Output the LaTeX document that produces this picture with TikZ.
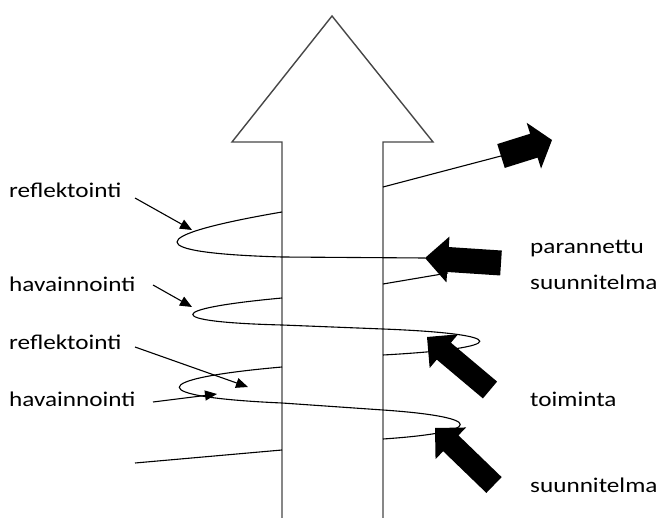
\documentclass[tikz,border=0pt]{standalone}
\usepackage{fontspec}
\setmainfont{Carlito}[FakeStretch=1.2]
\usetikzlibrary{calc,arrows.meta}
\tikzset{
  bigarrow/.style={draw=black!72, fill=white, line width=1.4pt, line join=miter},
  spiral/.style={draw=black, line width=1.1pt},
  lbl/.style={font=\fontsize{21}{24}\selectfont, anchor=base west, inner sep=0pt, text=black},
  lblarrow/.style={draw=black, line width=1.1pt, -{Triangle[length=12pt,width=10pt]}},
}
\newcommand{\blkarrow}[5]{% tail, tip, halfshaft, halfhead, headlen
  \fill[black] ($(#1)!#3!90:(#2)$) -- ($($(#2)!#5!(#1)$)!#3!90:(#2)$) -- ($($(#2)!#5!(#1)$)!#4!90:(#2)$) -- (#2)
    -- ($($(#2)!#5!(#1)$)!#4!-90:(#2)$) -- ($($(#2)!#5!(#1)$)!#3!-90:(#2)$) -- ($(#1)!#3!-90:(#2)$) -- cycle;}
\begin{document}
\begin{tikzpicture}[x=1pt,y=-1pt]
\useasboundingbox (0,0) rectangle (661,518);
% big arrow
\draw[bigarrow] (282,530) -- (282,142) -- (232,142) -- (332,16) -- (433,142) -- (383,142) -- (383,530);
% coordinates for black arrows
\coordinate (a1t) at (501,156); \coordinate (a1p) at (552,140);
\coordinate (a2t) at (501,263); \coordinate (a2p) at (425,258);
\coordinate (a3t) at (490,390); \coordinate (a3p) at (427,337);
\coordinate (a4t) at (494,485); \coordinate (a4p) at (435,428);
% spiral
\draw[spiral] (383,187) -- (a1t);
\draw[spiral] (282,212) .. controls (142,236) and (142,253) .. (282,257) -- (a2p);
\draw[spiral] (383,284) -- (448,273);
\draw[spiral] (282,298) .. controls (163,309) and (163,322) .. (282,325) -- (383,329) .. controls (512,334) and (512,348) .. (383,355);
\draw[spiral] (282,367) .. controls (145,379) and (145,397) .. (282,403) -- (383,410) .. controls (486,417) and (486,432) .. (383,439);
\coordinate (s0) at (135,463);
\draw[spiral] (s0) -- (282,450);
% black arrows
\blkarrow{a1t}{a1p}{12.5pt}{24pt}{19pt}
\blkarrow{a2t}{a2p}{12.5pt}{23pt}{23pt}
\blkarrow{a3t}{a3p}{11pt}{22pt}{22pt}
\blkarrow{a4t}{a4p}{11pt}{22pt}{22pt}
% labels
\node[lbl] (r1) at (9,198) {reflektointi};
\node[lbl] (h1) at (9,292) {havainnointi};
\node[lbl] (r2) at (9,350) {reflektointi};
\node[lbl] (h2) at (9,406) {havainnointi};
\node[lbl] (pa) at (530,254) {parannettu};
\node[lbl] (su1) at (530,290) {suunnitelma};
\node[lbl] (to) at (530,406) {toiminta};
\node[lbl] (su2) at (530,492) {suunnitelma};
% label arrows
\coordinate (r1e) at (192,230); \coordinate (h1e) at (192,307);
\coordinate (r2e) at (248,387); \coordinate (h2e) at (217,394);
\draw[lblarrow] (135,198) -- (r1e);
\draw[lblarrow] (153,285) -- (h1e);
\draw[lblarrow] (135,347) -- (r2e);
\draw[lblarrow] (153,402) -- (h2e);
\end{tikzpicture}
\end{document}
